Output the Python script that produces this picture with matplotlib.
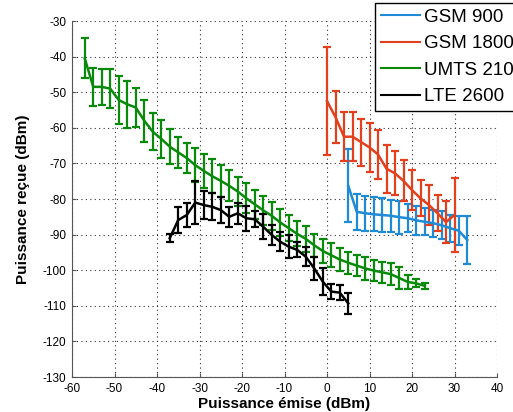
import matplotlib
matplotlib.use('Agg')
import matplotlib.pyplot as plt

plt.rcParams['font.family'] = ['Liberation Sans', 'DejaVu Sans']
plt.rcParams['axes.unicode_minus'] = False

# GSM 900
gsm900_x = [5, 7, 9, 11, 13, 15, 17, 19, 21, 23, 25, 27, 29, 31, 33]
gsm900_y = [-76.3, -83.6, -84.0, -84.3, -84.5, -84.7, -85.1, -85.4, -86.0, -86.4,
            -86.8, -87.4, -88.2, -88.9, -91.5]
gsm900_e = [10.3, 5.0, 4.9, 4.8, 4.7, 4.5, 4.6, 4.0, 4.0, 3.8, 3.8, 3.9, 3.8, 4.0, 6.8]

# GSM 1800
gsm1800_x = [0, 2, 4, 6, 8, 10, 12, 14, 16, 18, 20, 22, 24, 26, 28, 30]
gsm1800_y = [-52.5, -57.0, -62.5, -62.5, -64.0, -65.5, -67.5, -71.5, -72.8, -74.9,
             -77.5, -79.8, -81.7, -84.0, -86.5, -84.5]
gsm1800_e = [15.2, 7.3, 6.8, 6.8, 6.6, 6.8, 6.9, 6.8, 6.2, 5.8, 5.6, 5.1, 5.6, 5.1, 5.8, 10.4]

# UMTS 2100
umts_x = list(range(-57, 24, 2))
umts_y = [-40.5, -48.5, -48.5, -49.0, -52.2, -53.4, -54.3, -58.0, -61.1, -63.1,
          -65.3, -66.9, -68.5, -70.5, -72.1, -73.6, -74.9, -76.3, -77.9, -79.8,
          -81.5, -83.2, -84.7, -86.6, -88.2, -89.8, -91.2, -93.0, -94.6, -95.8,
          -97.0, -97.9, -98.7, -99.5, -100.1, -100.6, -101.1, -102.2, -103.3, -103.7,
          -104.4]
umts_e = [5.6, 5.3, 5.0, 5.5, 6.7, 6.6, 5.5, 5.9, 5.2, 5.4,
          4.9, 4.4, 4.3, 4.8, 4.8, 4.8, 4.4, 4.4, 4.2, 4.2,
          4.0, 4.0, 3.9, 3.8, 3.7, 3.5, 3.6, 3.3, 3.3, 3.4,
          3.3, 3.1, 3.0, 3.3, 3.0, 3.0, 3.0, 3.2, 2.0, 1.1, 0.9]

# LTE 2600
lte_x = list(range(-37, 6, 2))
lte_y = [-91.0, -85.9, -84.5, -81.0, -81.7, -82.2, -83.1, -85.0, -84.0, -85.4,
         -85.7, -87.8, -90.1, -92.0, -93.4, -94.3, -96.2, -99.5, -103.2, -106.0,
         -106.3, -109.3]
lte_e = [1.2, 3.75, 3.3, 6.1, 4.0, 3.75, 3.6, 2.8, 3.0, 3.5,
         2.3, 3.5, 2.8, 2.6, 3.3, 2.1, 2.6, 3.3, 3.75, 2.1, 2.1, 3.0]

series = [
    ('GSM 900', gsm900_x, gsm900_y, gsm900_e, '#1f8ad6'),
    ('GSM 1800', gsm1800_x, gsm1800_y, gsm1800_e, '#e5401d'),
    ('UMTS 2100', umts_x, umts_y, umts_e, '#0a8a0a'),
    ('LTE 2600', lte_x, lte_y, lte_e, 'black'),
]

fig = plt.figure(figsize=(5.13, 4.12), dpi=100)
ax = fig.add_axes([72 / 513, 1 - 377 / 412, 425 / 513, 356 / 412])

for name, x, y, e, c in series:
    ax.errorbar(x, y, yerr=e, color=c, lw=1.8, elinewidth=1.6, capsize=2.6,
                capthick=1.6, label=name)

ax.set_xlim(-60, 40)
ax.set_ylim(-130, -30)
ax.set_xticks(range(-60, 41, 10))
ax.set_yticks(range(-130, -29, 10))
ax.grid(True, color='#333333', linestyle=(0, (1, 3)), linewidth=0.8)
ax.set_axisbelow(True)
for s in ['top', 'right']:
    ax.spines[s].set_visible(False)
for s in ['left', 'bottom']:
    ax.spines[s].set_color('#555555')
ax.tick_params(direction='in', length=3, labelsize=8.5, color='#555555')
ax.tick_params(axis='x', pad=4)
ax.tick_params(axis='y', pad=4)

ax.set_xlabel('Puissance émise (dBm)', fontsize=11, fontweight='bold', labelpad=2)
ax.set_ylabel('Puissance reçue (dBm)', fontsize=11, fontweight='bold', labelpad=9)

# legend sits partly past the right edge, as in the original
handles, labels = ax.get_legend_handles_labels()
handles = [h[0] for h in handles]
leg = fig.legend(handles, labels, loc='upper left', bbox_to_anchor=(375 / 513, 1 - 3 / 412),
                 fontsize=13.5, frameon=True, fancybox=False, edgecolor='black',
                 framealpha=1, handlelength=2.1, handletextpad=0.2,
                 labelspacing=0.5, borderpad=0.3, borderaxespad=0)
leg.get_frame().set_linewidth(1.0)
for line in leg.get_lines():
    line.set_linewidth(1.5)

fig.savefig('out.png', dpi=100)
